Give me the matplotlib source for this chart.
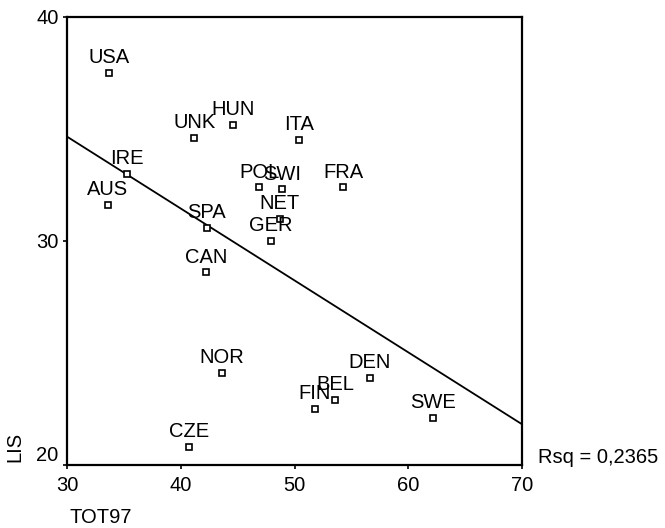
import matplotlib
matplotlib.use("Agg")
import matplotlib.pyplot as plt
import numpy as np

plt.rcParams['font.family'] = ['Liberation Sans', 'DejaVu Sans']

# countries, TOT97 (x) and LIS (y)
countries = ['USA', 'UNK', 'HUN', 'ITA', 'IRE', 'AUS', 'POL', 'SWI', 'FRA', 'NET',
             'SPA', 'GER', 'CAN', 'NOR', 'FIN', 'BEL', 'CZE', 'DEN', 'SWE']
tot97 = [33.7, 41.2, 44.6, 50.4, 35.3, 33.6, 46.9, 48.9, 54.3, 48.7,
         42.3, 47.9, 42.2, 43.6, 51.8, 53.6, 40.7, 56.6, 62.2]
lis = [37.5, 34.6, 35.2, 34.5, 33.0, 31.6, 32.4, 32.3, 32.4, 31.0,
       30.6, 30.0, 28.6, 24.1, 22.5, 22.9, 20.8, 23.9, 22.1]

# fitted line as shown in the chart
fit_intercept = 44.29
fit_slope = -0.321
rsq_text = 'Rsq = 0,2365'

xticks = [30, 40, 50, 60, 70]
yticks = [20, 30, 40]

W, H = 665, 528
fig = plt.figure(figsize=(W / 100, H / 100), dpi=100)
ax = fig.add_axes([67 / W, 1 - 465 / H, 455 / W, 448 / H])

fs = 14.5

# regression line
xl = np.array([30, 70])
ax.plot(xl, fit_intercept + fit_slope * xl, color='black', lw=1.3)

ax.plot(tot97, lis, ls='none', marker='s', ms=5, mfc='white', mec='black', mew=1.2)
for name, x, y in zip(countries, tot97, lis):
    ax.annotate(name, (x, y), xytext=(0, 7), textcoords='offset points',
                ha='center', va='baseline', fontsize=fs)

ax.set_xlim(30, 70)
ax.set_ylim(20, 40)
ax.set_xticks(xticks)
ax.set_yticks(yticks)
ax.tick_params(direction='out', length=3, width=1.2, labelsize=fs, pad=3)
ax.tick_params(axis='x', pad=5)
for sp in ax.spines.values():
    sp.set_linewidth(1.6)

# lowest y label sits above its tick so it clears the x labels
ax.get_yticklabels()[0].set_verticalalignment('bottom')

fig.text(15 / W, 1 - 462 / H, 'LIS', rotation=90, ha='center', va='bottom', fontsize=fs)
fig.text(70 / W, 1 - 523 / H, 'TOT97', ha='left', va='baseline', fontsize=fs)
fig.text(538 / W, 1 - 463 / H, rsq_text, ha='left', va='baseline', fontsize=fs)

fig.savefig('out.png', dpi=100)
